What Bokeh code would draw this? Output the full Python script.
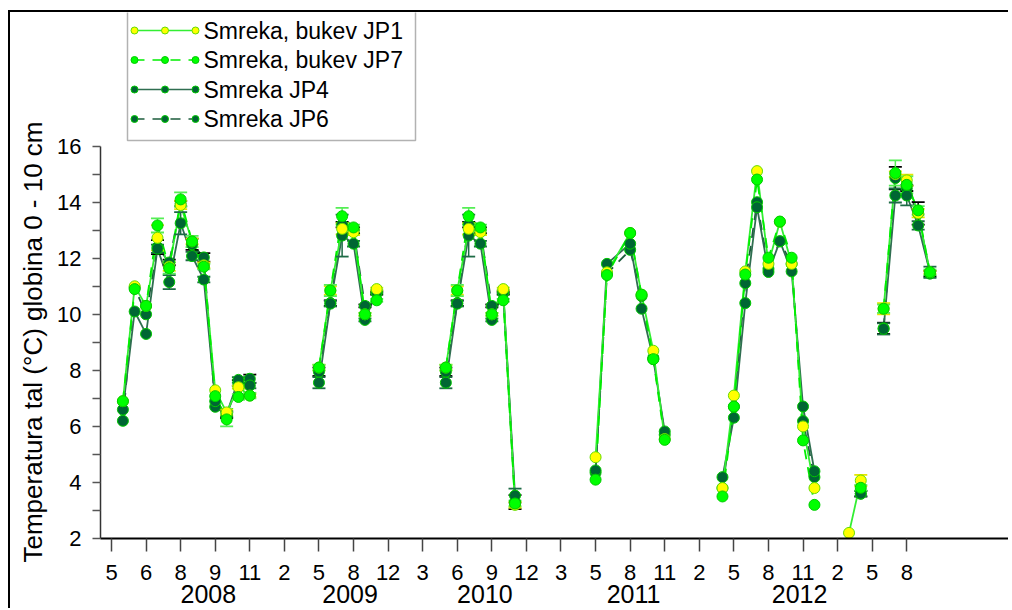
import math
from bokeh.plotting import figure
from bokeh.models import FixedTicker, Range1d, Label, BoxAnnotation, LinearAxis, Title
from bokeh.embed import file_html
from bokeh.resources import INLINE

nan = float("nan")

# Month labels of the time axis (one per tick) and the year captions under them
tick_labels = ["5", "6", "8", "9", "11", "2", "5", "8", "12", "3", "6", "9", "12",
               "3", "5", "8", "11", "2", "5", "8", "11", "2", "5", "8"]
year_labels = ["2008", "2009", "2010", "2011", "2012"]
year_pos = [2.8, 6.9, 10.8, 15.1, 19.9]

# Sampling positions along the time axis (tick units); nan separates campaigns
x_pos = [0.33, 0.67, 1.0, 1.33, 1.67, 2.0, 2.33, 2.67, 3.0, 3.33, 3.67, 4.0, nan,
         6.0, 6.33, 6.67, 7.0, 7.33, 7.67, nan,
         9.67, 10.0, 10.33, 10.67, 11.0, 11.33, 11.67, nan,
         14.0, 14.33, 15.0, 15.33, 15.67, 16.0, nan,
         17.67, 18.0, 18.33, 18.67, 19.0, 19.33, 19.67, 20.0, 20.33, nan,
         21.33, 21.67, nan,
         22.33, 22.67, 23.0, 23.33, 23.67]

# Soil temperature (°C), depth 0 - 10 cm
jp1 = [6.9, 11.0, 10.3, 12.73, 11.7, 13.9, 12.6, 11.75, 7.29, 6.5, 7.4, 7.1, nan,
       8.1, 10.85, 13.05, 12.93, 10.0, 10.9, nan,
       8.1, 10.85, 13.05, 12.93, 10.0, 10.9, 3.2, nan,
       4.9, 11.5, 12.9, 10.7, 8.7, 5.55, nan,
       3.8, 7.1, 11.53, 15.11, 11.8, 13.3, 11.8, 6.0, 3.8, nan,
       2.2, 4.07, nan,
       10.2, 15.0, 14.78, 13.61, 11.5]
jp7 = [6.9, 10.9, 10.3, 13.17, 11.65, 14.1, 12.6, 11.7, 7.08, 6.25, 7.05, 7.1, nan,
       8.1, 10.85, 13.5, 13.1, 10.0, 10.5, nan,
       8.1, 10.85, 13.5, 13.1, 10.0, 10.5, 3.25, nan,
       4.1, 11.4, 12.9, 10.7, 8.4, 5.52, nan,
       3.5, 6.71, 11.42, 14.81, 12.02, 13.31, 12.02, 5.5, 3.2, nan,
       nan, 3.81, nan,
       10.2, 15.04, 14.62, 13.71, 11.5]
jp4 = [6.6, 10.1, 9.3, 12.34, 11.15, 13.25, 12.08, 11.24, 6.9, 6.45, 7.66, 7.46, nan,
       7.56, 10.38, 12.81, 12.52, 9.8, 10.8, nan,
       7.56, 10.38, 12.81, 12.52, 9.8, 10.8, 3.53, nan,
       4.43, 11.8, 12.52, 10.2, 8.4, 5.82, nan,
       4.19, 6.31, 10.4, 13.82, 11.51, 12.61, 11.53, 6.71, 4.4, nan,
       nan, 3.6, nan,
       9.48, 14.24, 14.24, 13.17, 11.5]
jp6 = [6.2, 10.95, 10.0, 12.4, 11.85, 13.95, 12.5, 12.03, 6.7, 6.4, 7.55, 7.7, nan,
       7.95, 10.4, 13.2, 13.0, 10.3, 10.75, nan,
       7.95, 10.4, 13.2, 13.0, 10.3, 10.75, 3.3, nan,
       4.35, 11.45, 12.3, 10.65, 8.45, 5.7, nan,
       3.8, 6.7, 11.11, 14.0, 11.62, 12.6, 11.8, 6.19, 4.19, nan,
       nan, 3.6, nan,
       9.5, 14.86, 14.5, 13.6, 11.45]

# Standard errors (0 = not shown)
err_jp1 = [0, 0, 0, 0.45, 0.15, 0.15, 0.1, 0.1, 0, 0.1, 0.05, 0.05, 0,
           0.1, 0.15, 0.2, 0.1, 0.05, 0.05, 0,
           0.1, 0.15, 0.2, 0.1, 0.05, 0.05, 0.1, 0,
           0, 0, 0, 0, 0, 0, 0,
           0, 0, 0, 0, 0, 0, 0, 0, 0, 0,
           0, 0.2, 0,
           0.2, 0.1, 0.2, 0.15, 0.05]
err_jp7 = [0, 0, 0, 0.25, 0.2, 0.25, 0.2, 0.1, 0, 0.25, 0.1, 0.1, 0,
           0.1, 0.2, 0.3, 0.1, 0.05, 0.05, 0,
           0.1, 0.2, 0.3, 0.1, 0.05, 0.05, 0.1, 0,
           0, 0, 0, 0, 0, 0, 0,
           0, 0, 0, 0, 0, 0, 0, 0, 0, 0,
           0, 0.1, 0,
           0.15, 0.45, 0.3, 0.15, 0.1]
err_jp4 = [0, 0, 0, 0.15, 0.25, 0.4, 0.15, 0.1, 0, 0.1, 0.1, 0.1, 0,
           0.2, 0.1, 0.75, 0.1, 0.05, 0.05, 0,
           0.2, 0.1, 0.75, 0.1, 0.05, 0.05, 0.25, 0,
           0, 0, 0, 0, 0, 0, 0,
           0, 0, 0, 0, 0, 0, 0, 0, 0, 0,
           0, 0.1, 0,
           0.2, 0.25, 0.35, 0.15, 0.2]
err_jp6 = [0, 0, 0, 0.25, 0.1, 0.1, 0.2, 0.15, 0, 0.1, 0.1, 0.15, 0,
           0.15, 0.1, 0.1, 0.1, 0.05, 0.05, 0,
           0.15, 0.1, 0.1, 0.1, 0.05, 0.05, 0.25, 0,
           0, 0, 0, 0, 0, 0, 0,
           0, 0, 0, 0, 0, 0, 0, 0, 0, 0,
           0, 0.1, 0,
           0.2, 0.4, 0.1, 0.4, 0.1]

FONT = "Liberation Sans"

# Series styling: (label, values, errors, line colour, dash, marker fill, marker edge, error colour)
series = [
    ("Smreka JP6", jp6, err_jp6, "#1d5c3c", "10 8", "#006633", "#00c800", "#000000"),
    ("Smreka JP4", jp4, err_jp4, "#2f6e50", "solid", "#006633", "#00c800", "#1e6b46"),
    ("Smreka, bukev JP1", jp1, err_jp1, "#33ee33", "solid", "#ffff00", "#66dd00", "#e6e600"),
    ("Smreka, bukev JP7", jp7, err_jp7, "#00ee00", "10 8", "#00ff00", "#00cc00", "#55ee55"),
]

# Frame geometry (pixels) used to place the legend
FRAME_W, FRAME_H = 910, 526
X0, X1 = -0.318, 26.0
Y0, Y1 = 2.0, 20.77


def dx(px):
    """Horizontal pixel offset from the frame's left edge -> data x."""
    return X0 + px * (X1 - X0) / FRAME_W


def dy(py):
    """Vertical pixel offset from the frame's top edge -> data y."""
    return Y1 - py * (Y1 - Y0) / FRAME_H


p = figure(width=1000, height=598, output_backend="svg", toolbar_location=None,
           x_range=Range1d(X0, X1), y_range=Range1d(Y0, Y1),
           min_border_left=90, min_border_right=0, min_border_top=0, min_border_bottom=72,
           styles={"margin-left": "8px", "margin-top": "10px",
                   "border-top": "2px solid #000", "border-left": "2px solid #000"})
p.outline_line_color = None
p.xgrid.visible = False
p.ygrid.visible = False
p.background_fill_color = "white"
p.border_fill_color = "white"

# x axis: month ticks
p.xaxis.ticker = FixedTicker(ticks=list(range(len(tick_labels))))
p.xaxis.major_label_overrides = {i: t for i, t in enumerate(tick_labels)}
p.xaxis.major_tick_out = 13
p.xaxis.major_tick_in = 0
p.xaxis.minor_tick_line_color = None
p.xaxis.axis_line_width = 2
p.xaxis.major_tick_line_width = 1.5
p.xaxis.major_tick_line_color = "#444444"
p.xaxis.major_label_text_font = FONT
p.xaxis.major_label_text_font_size = "22px"
p.xaxis.major_label_text_color = "black"
p.xaxis.major_label_standoff = 13

# second row of the time axis: years
year_axis = LinearAxis(ticker=FixedTicker(ticks=year_pos),
                       major_label_overrides={xp: yr for xp, yr in zip(year_pos, year_labels)},
                       axis_line_color=None, major_tick_line_color=None,
                       minor_tick_line_color=None, major_tick_out=0, major_tick_in=0,
                       major_label_standoff=2, major_label_text_font=FONT,
                       major_label_text_font_size="25px", major_label_text_color="black")
p.add_layout(year_axis, "below")

# y axis: 2..16, labels on even values
p.yaxis.bounds = (2, 16)
p.yaxis.ticker = FixedTicker(ticks=list(range(2, 17)))
p.yaxis.major_label_overrides = {v: (str(v) if v % 2 == 0 else "") for v in range(2, 17)}
p.yaxis.major_tick_out = 8
p.yaxis.major_tick_in = 0
p.yaxis.minor_tick_line_color = None
p.yaxis.axis_line_width = 1.5
p.yaxis.axis_line_color = "#333333"
p.yaxis.major_tick_line_width = 1.5
p.yaxis.major_tick_line_color = "#555555"
p.yaxis.major_label_text_font = FONT
p.yaxis.major_label_text_font_size = "22px"
p.yaxis.major_label_text_color = "black"
p.yaxis.major_label_standoff = 11

# vertical axis title, running along the labelled 2..16 part of the axis
p.add_layout(Title(text="Temperatura tal (°C) globina 0 - 10 cm", align="left",
                   vertical_align="top", offset=-24, standoff=10, text_font=FONT,
                   text_font_size="26px", text_font_style="normal",
                   text_color="black"), "left")

# Lines
for name, vals, errs, lc, dash, fc, ec, erc in series:
    p.line(x_pos, vals, line_color=lc, line_width=1.8, line_dash=dash)

# Error bars
for name, vals, errs, lc, dash, fc, ec, erc in series:
    keep = [i for i, (v, e) in enumerate(zip(vals, errs)) if e > 0 and not math.isnan(v)]
    xs = [x_pos[i] for i in keep]
    lo = [vals[i] - errs[i] for i in keep]
    hi = [vals[i] + errs[i] for i in keep]
    p.segment(x0=xs, y0=lo, x1=xs, y1=hi, line_color=erc, line_width=1.5)
    p.scatter(xs, lo, marker="dash", size=13, line_color=erc, line_width=1.8)
    p.scatter(xs, hi, marker="dash", size=13, line_color=erc, line_width=1.8)

# Markers
for name, vals, errs, lc, dash, fc, ec, erc in series:
    p.scatter(x_pos, vals, marker="circle", size=11, fill_color=fc,
              line_color=ec, line_width=1)

# Legend: framed box with a three-marker sample of each series
p.add_layout(BoxAnnotation(left=dx(27), right=dx(315), top=dy(-4), bottom=dy(128),
                           fill_color="white", fill_alpha=1.0,
                           line_color="black", line_width=1.5, level="underlay"))
legend_order = [2, 3, 1, 0]
for row, idx in enumerate(legend_order):
    name, vals, errs, lc, dash, fc, ec, erc = series[idx]
    ry = dy(18 + row * 29.5)
    xs = [dx(34), dx(64.5), dx(95)]
    p.line([xs[0], xs[2]], [ry, ry], line_color=lc, line_width=1.5, line_dash=dash)
    p.scatter(xs, [ry] * 3, marker="circle", size=7, fill_color=fc, line_color=ec,
              line_width=1)
    p.add_layout(Label(x=dx(103), y=ry, text=name, text_align="left",
                       text_baseline="middle", text_font=FONT,
                       text_font_size="23px", text_color="black"))

open("out.html", "w").write(file_html(p, INLINE))
